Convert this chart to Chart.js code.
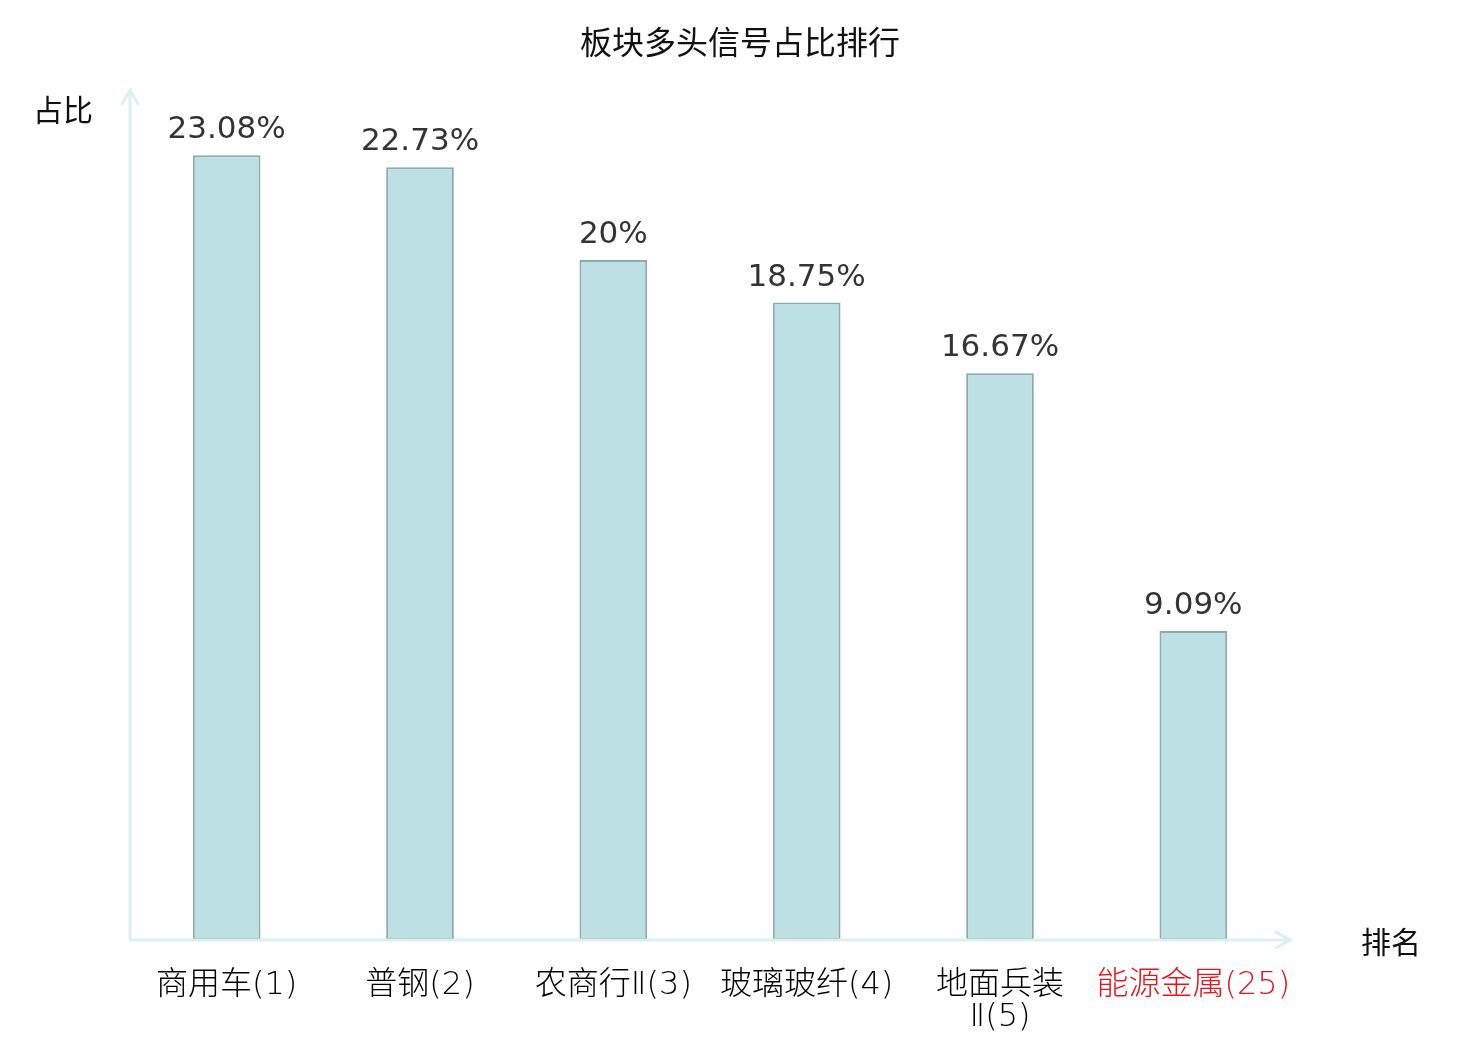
<!DOCTYPE html>
<html>
<head>
<meta charset="utf-8">
<script src="https://cdn.jsdelivr.net/npm/chart.js@4/dist/chart.umd.min.js"></script>
<style>
  html, body { margin: 0; padding: 0; background: #fff; }
  #wrap { width: 1480px; height: 1040px; }
</style>
</head>
<body>
<div id="wrap"><canvas id="c"></canvas></div>
<script>
// data
const categories = ['商用车(1)', '普钢(2)', '农商行Ⅱ(3)', '玻璃玻纤(4)', ['地面兵装', 'Ⅱ(5)'], '能源金属(25)'];
const shares = [23.08, 22.73, 20, 18.75, 16.67, 9.09];
const shareLabels = ['23.08%', '22.73%', '20%', '18.75%', '16.67%', '9.09%'];
const highlightIndex = 5;

const cjk = '"Noto Sans CJK SC", "Noto Sans", sans-serif';
const mixed = '"DejaVu Sans", "Noto Sans CJK SC", sans-serif';
const axisColor = '#dcf1ee';

// title, axis lines with arrows, axis names, value labels
const decorations = {
    id: 'decorations',
    afterDatasetsDraw(chart) {
        const { ctx, chartArea: a } = chart;
        const x0 = a.left, y0 = a.bottom;
        ctx.save();

        ctx.fillStyle = '#111';
        ctx.font = '32px ' + cjk;
        ctx.textAlign = 'center';
        ctx.textBaseline = 'middle';
        ctx.fillText('板块多头信号占比排行', chart.width / 2, 42);

        ctx.strokeStyle = axisColor;
        ctx.lineWidth = 3;
        ctx.lineCap = 'round';
        ctx.beginPath();
        // y axis
        ctx.moveTo(x0, y0); ctx.lineTo(x0, a.top);
        ctx.moveTo(x0 - 8, a.top + 14); ctx.lineTo(x0, a.top); ctx.lineTo(x0 + 8, a.top + 14);
        // x axis
        ctx.moveTo(x0, y0); ctx.lineTo(a.right, y0);
        ctx.moveTo(a.right - 14, y0 - 8); ctx.lineTo(a.right, y0); ctx.lineTo(a.right - 14, y0 + 8);
        ctx.stroke();

        // axis names
        ctx.font = '30px ' + cjk;
        ctx.textAlign = 'left';
        ctx.fillText('占比', 33, 110);
        ctx.fillText('排名', 1361, 942);

        // value labels
        ctx.fillStyle = '#333';
        ctx.font = '31px "DejaVu Sans", sans-serif';
        ctx.textAlign = 'center';
        ctx.textBaseline = 'alphabetic';
        chart.getDatasetMeta(0).data.forEach((bar, i) => {
            ctx.fillText(shareLabels[i], bar.x, bar.y - 17);
        });
        ctx.restore();
    }
};

new Chart(document.getElementById('c'), {
    type: 'bar',
    data: {
        labels: categories,
        datasets: [{
            data: shares,
            backgroundColor: '#bce0e3',
            borderColor: '#8eaaab',
            borderWidth: 2,
            borderSkipped: false,
            barPercentage: 0.35,
            categoryPercentage: 1
        }]
    },
    options: {
        responsive: true,
        maintainAspectRatio: false,
        animation: false,
        layout: { padding: { left: 130, right: 190, top: 90, bottom: 0 } },
        plugins: {
            legend: { display: false },
            tooltip: { enabled: false }
        },
        scales: {
            y: { display: false, min: 0, max: 25 },
            x: {
                grid: { display: false, drawTicks: false },
                border: { display: false },
                afterFit(scale) { scale.height = 100; },
                ticks: {
                    maxRotation: 0,
                    autoSkip: false,
                    padding: 30,
                    font: { family: mixed, size: 32, weight: 300, lineHeight: 1.0 },
                    color: ctx => ctx.index === highlightIndex ? '#e8141c' : '#000'
                }
            }
        }
    },
    plugins: [decorations]
});
</script>
</body>
</html>
